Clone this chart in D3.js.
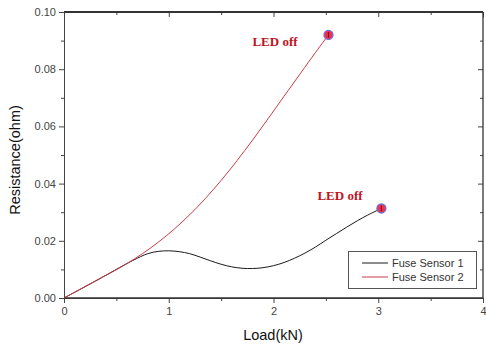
<!DOCTYPE html>
<html><head><meta charset="utf-8">
<script src="https://cdn.jsdelivr.net/npm/d3@7"></script>
<style>body{margin:0;background:#fff}svg{display:block}</style>
</head><body>
<svg id="c" width="486" height="347"></svg>
<script>
const xTicks = [0, 1, 2, 3, 4];
const yTicks = [0.00, 0.02, 0.04, 0.06, 0.08, 0.10];
const seriesNames = ["Fuse Sensor 1", "Fuse Sensor 2"];
const s1x = [0, 0.3, 0.65, 0.8, 0.9, 1.0, 1.1, 1.2, 1.3, 1.4, 1.5, 1.6, 1.7, 1.8, 1.9, 2.0, 2.1, 2.2, 2.3, 2.4, 2.5, 2.6, 2.7, 2.8, 2.9, 3.03];
const s1y = [0, 0.0059, 0.0130, 0.0155, 0.0163, 0.0165, 0.0162, 0.0155, 0.0143, 0.0130, 0.0118, 0.0109, 0.0104, 0.0103, 0.0106, 0.0113, 0.0124, 0.0139, 0.0157, 0.0178, 0.0202, 0.0225, 0.0248, 0.0270, 0.0290, 0.0313];
const s2x = [0, 0.3, 0.6, 0.9, 1.2, 1.5, 1.8, 2.1, 2.4, 2.525];
const s2y = [0, 0.0060, 0.0120, 0.0195, 0.0291, 0.0411, 0.0552, 0.0705, 0.0858, 0.0920];
const endX = [3.03, 2.525];
const endY = [0.0313, 0.0920];
const labelText = "LED off";

const svg = d3.select("#c");
const L = 64, R = 483, T = 12, B = 298;
const x = d3.scaleLinear().domain([0, 4]).range([L, R]);
const y = d3.scaleLinear().domain([0, 0.1]).range([B, T]);

const tickColor = "#444";
svg.append("g").attr("transform", `translate(0,${B})`)
  .call(d3.axisBottom(x).tickValues(xTicks).tickFormat(d3.format("d")).tickSize(5).tickPadding(4));
svg.append("g").attr("transform", `translate(0,${B})`)
  .call(d3.axisBottom(x).tickValues(d3.range(0.5, 4, 1)).tickFormat("").tickSize(3))
  .call(g => g.select(".domain").remove());
svg.append("g").attr("transform", `translate(${L},0)`)
  .call(d3.axisLeft(y).tickValues(yTicks).tickFormat(d3.format(".2f")).tickSize(5).tickPadding(3));
svg.append("g").attr("transform", `translate(${L},0)`)
  .call(d3.axisLeft(y).tickValues(d3.range(0.01, 0.1, 0.02)).tickFormat("").tickSize(3))
  .call(g => g.select(".domain").remove());
svg.append("g").attr("transform", `translate(0,${T})`)
  .call(d3.axisTop(x).tickValues(xTicks).tickFormat("").tickSize(-5))
  .call(g => g.select(".domain").remove());
svg.append("g").attr("transform", `translate(0,${T})`)
  .call(d3.axisTop(x).tickValues(d3.range(0.5, 4, 1)).tickFormat("").tickSize(-3))
  .call(g => g.select(".domain").remove());
svg.append("g").attr("transform", `translate(${R},0)`)
  .call(d3.axisRight(y).tickValues(yTicks).tickFormat("").tickSize(-5))
  .call(g => g.select(".domain").remove());
svg.append("g").attr("transform", `translate(${R},0)`)
  .call(d3.axisRight(y).tickValues(d3.range(0.01, 0.1, 0.02)).tickFormat("").tickSize(-3))
  .call(g => g.select(".domain").remove());

svg.selectAll(".tick line").attr("stroke", tickColor);
svg.selectAll(".domain").attr("stroke", "#444");
svg.selectAll(".tick text").attr("font-family", "Arial, 'Liberation Sans', sans-serif")
  .attr("font-size", 11).attr("fill", "#444");

svg.append("line").attr("x1", L).attr("x2", R).attr("y1", T).attr("y2", T).attr("stroke", "#333").attr("stroke-width", 2);
svg.append("line").attr("x1", R).attr("x2", R).attr("y1", T).attr("y2", B).attr("stroke", "#333").attr("stroke-width", 1.3);
svg.append("line").attr("x1", L).attr("x2", R).attr("y1", B).attr("y2", B).attr("stroke", "#333").attr("stroke-width", 1.5);

svg.append("text").attr("x", 273).attr("y", 340).attr("text-anchor", "middle")
  .attr("font-family", "Arial, 'Liberation Sans', sans-serif").attr("font-size", 14.5).attr("fill", "#111")
  .text("Load(kN)");
svg.append("text").attr("transform", "translate(20,160) rotate(-90)").attr("text-anchor", "middle")
  .attr("font-family", "Arial, 'Liberation Sans', sans-serif").attr("font-size", 14.5).attr("fill", "#111")
  .text("Resistance(ohm)");

const line = d3.line().x(d => x(d[0])).y(d => y(d[1])).curve(d3.curveCatmullRom.alpha(0.5));
const d1 = s1x.map((v, i) => [v, s1y[i]]);
const d2 = s2x.map((v, i) => [v, s2y[i]]);
const colors = ["#1a1a1a", "#cc3a4a"];
svg.append("path").attr("d", line(d1)).attr("fill", "none").attr("stroke", colors[0]).attr("stroke-width", 1);
svg.append("path").attr("d", line(d2)).attr("fill", "none").attr("stroke", colors[1]).attr("stroke-width", 1);

endX.forEach((ex, i) => {
  const cx = x(ex), cy = y(endY[i]);
  svg.append("circle").attr("cx", cx).attr("cy", cy).attr("r", 4.5)
    .attr("fill", "#f03050").attr("stroke", "#7070d8").attr("stroke-width", 1.3);
  svg.append("line").attr("x1", cx).attr("x2", cx).attr("y1", cy - 3).attr("y2", cy + 3)
    .attr("stroke", "#901020").attr("stroke-width", 1.2);
});

const labPos = [[340, 200], [275, 46]];
labPos.forEach(p => {
  svg.append("text").attr("x", p[0]).attr("y", p[1]).attr("text-anchor", "middle")
    .attr("font-family", "'Liberation Serif', 'Times New Roman', serif").attr("font-weight", "bold")
    .attr("font-size", 13).attr("fill", "#c0141e").text(labelText);
});

const lg = svg.append("g");
lg.append("rect").attr("x", 348.5).attr("y", 251.5).attr("width", 128).attr("height", 37)
  .attr("fill", "#fff").attr("stroke", "#555").attr("stroke-width", 1);
seriesNames.forEach((n, i) => {
  const yy = 263 + i * 14;
  lg.append("line").attr("x1", 362).attr("x2", 388).attr("y1", yy).attr("y2", yy)
    .attr("stroke", colors[i]).attr("stroke-width", 1);
  lg.append("text").attr("x", 392).attr("y", yy + 4)
    .attr("font-family", "Arial, 'Liberation Sans', sans-serif").attr("font-size", 11).attr("fill", "#333").text(n);
});
</script>
</body></html>
